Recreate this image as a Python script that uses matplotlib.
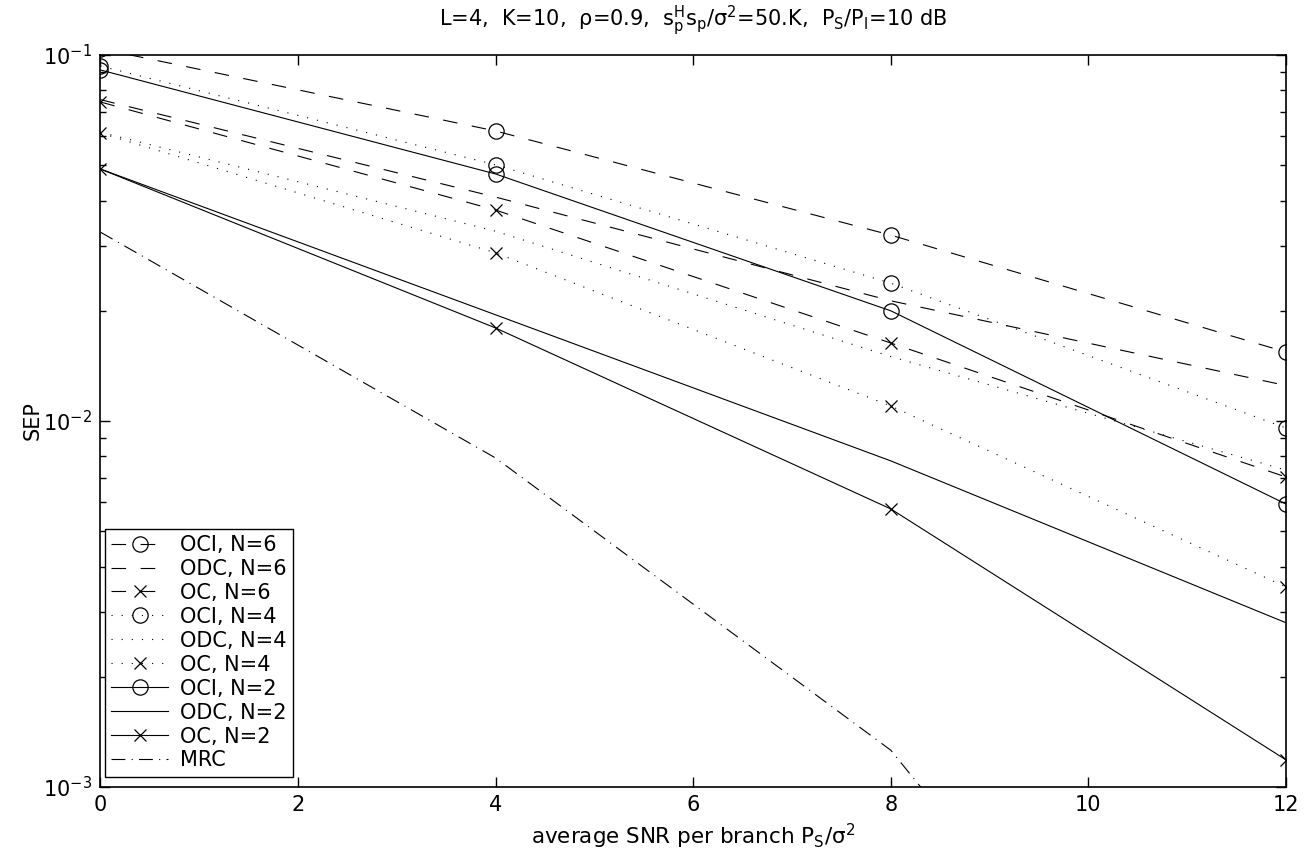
import matplotlib
matplotlib.use("Agg")
import matplotlib.pyplot as plt
from matplotlib.ticker import LogLocator, NullFormatter, FixedLocator

# SNR points (x axis)
snr = [0, 4, 8, 12]

# SEP values
oci6 = [0.104, 0.0620, 0.0322, 0.01543]
odc6 = [0.0755, 0.0409, 0.0213, 0.0125]
oc6 = [0.0744, 0.0377, 0.01633, 0.00703]
oci4 = [0.0933, 0.0501, 0.0238, 0.00957]
odc4 = [0.0615, 0.0330, 0.0150, 0.00734]
oc4 = [0.0612, 0.0288, 0.01099, 0.00352]
oci2 = [0.0910, 0.0473, 0.0200, 0.00593]
odc2 = [0.0488, 0.0195, 0.00778, 0.00281]
oc2 = [0.0488, 0.01795, 0.00575, 0.001186]
mrc = [0.0328, 0.00792, 0.00126, 0.000059]

plt.rcParams["font.family"] = ["DejaVu Sans"]
plt.rcParams["mathtext.fontset"] = "dejavusans"
plt.rcParams["mathtext.default"] = "regular"
plt.rcParams["lines.scale_dashes"] = False

dash = (0, (10.5, 10.5))
dot = (0, (0.8, 6.5))
dashdot = (0, (10, 4.5, 0.8, 4.5))
lw = 0.8

fig = plt.figure(figsize=(13.05, 8.58), dpi=100)
ax = fig.add_axes([0.077, 0.0828, 0.9084, 0.8531])

mk = dict(color="k", lw=lw, markerfacecolor="none", markeredgecolor="k", markeredgewidth=0.9)

ax.semilogy(snr, oci6, linestyle=dash, marker="o", ms=11, label="OCI, N=6", **mk)
ax.semilogy(snr, odc6, linestyle=dash, label="ODC, N=6", color="k", lw=lw)
ax.semilogy(snr, oc6, linestyle=dash, marker="x", ms=9, label="OC, N=6", **mk)
ax.semilogy(snr, oci4, linestyle=dot, marker="o", ms=11, label="OCI, N=4", **mk)
ax.semilogy(snr, odc4, linestyle=dot, label="ODC, N=4", color="k", lw=lw)
ax.semilogy(snr, oc4, linestyle=dot, marker="x", ms=9, label="OC, N=4", **mk)
ax.semilogy(snr, oci2, linestyle="-", marker="o", ms=11, label="OCI, N=2", **mk)
ax.semilogy(snr, odc2, linestyle="-", label="ODC, N=2", color="k", lw=lw)
ax.semilogy(snr, oc2, linestyle="-", marker="x", ms=9, label="OC, N=2", **mk)
ax.semilogy(snr, mrc, linestyle=dashdot, label="MRC", color="k", lw=lw)

ax.set_xlim(0, 12)
ax.set_ylim(1e-3, 1e-1)
ax.xaxis.set_major_locator(FixedLocator([0, 2, 4, 6, 8, 10, 12]))
ax.yaxis.set_major_locator(LogLocator(base=10))
ax.yaxis.set_minor_locator(LogLocator(base=10, subs=range(2, 10)))
ax.yaxis.set_minor_formatter(NullFormatter())

ax.tick_params(which="both", direction="in", top=True, right=True, colors="k", labelsize=15, width=1)
ax.tick_params(which="major", length=7, pad=6)
ax.tick_params(which="minor", length=4.5)
for s in ax.spines.values():
    s.set_linewidth(1.2)

ax.set_title(r"L=4,  K=10,  ρ=0.9,  $s_p^H s_p/\sigma^2$=50.K,  $P_S/P_I$=10 dB", fontsize=15, pad=21)
ax.set_xlabel(r"average SNR per branch $P_S/\sigma^2$", fontsize=15.5, labelpad=5)
ax.set_ylabel("SEP", fontsize=15, labelpad=0)

leg = ax.legend(loc="lower left", bbox_to_anchor=(0.004, 0.014), borderaxespad=0,
                fontsize=15, handlelength=2.7, handletextpad=0.6, labelspacing=0.19,
                fancybox=False, framealpha=1, edgecolor="k", borderpad=0.3)
leg.get_frame().set_linewidth(1.0)

fig.savefig("out.png", dpi=100)
